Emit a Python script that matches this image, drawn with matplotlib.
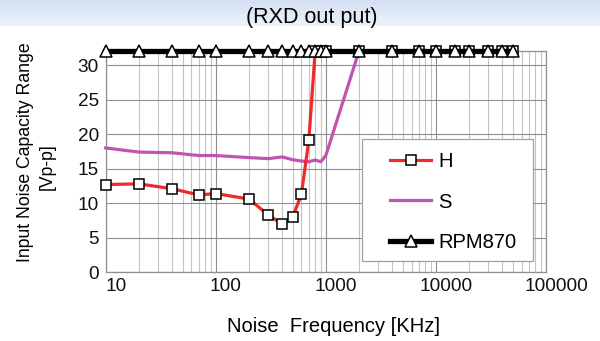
import numpy as np
import matplotlib
matplotlib.use('Agg')
import matplotlib.pyplot as plt
from matplotlib.ticker import LogLocator, FixedLocator, NullFormatter, FixedFormatter
import matplotlib.transforms as mtransforms
from matplotlib.patches import Rectangle

plt.rcParams['font.family'] = ['Liberation Sans', 'DejaVu Sans']

# ---------------- data ----------------
freq = [10, 20, 40, 70, 100, 200, 300, 400, 500, 600, 700, 800, 900, 1000,
        2000, 4000, 7000, 10000, 15000, 20000, 30000, 40000, 50000]
h_vals = [12.7, 12.8, 12.1, 11.2, 11.4, 10.6, 8.3, 7.0, 8.0, 11.3, 19.1, 32, 32, 32,
          32, 32, 32, 32, 32, 32, 32, 32, 32]
freq_s = [10, 20, 40, 70, 100, 200, 300, 400, 500, 600, 700, 800, 900, 1000, 2000]
s_vals = [18.0, 17.4, 17.3, 16.9, 16.9, 16.6, 16.45, 16.7, 16.3, 16.1, 16.0, 16.25, 16.0, 16.9, 32]
rpm_vals = [32, 32, 32, 32, 32, 32, 32, 32, 32, 32, 32, 32, 32, 32,
            32, 32, 32, 32, 32, 32, 32, 32, 32]
x_ticks = [10, 100, 1000, 10000, 100000]
x_ticklabels = ['10', '100', '1000', '10000', '100000']
y_ticks = [0, 5, 10, 15, 20, 25, 30]

W, H = 600, 341
fig = plt.figure(figsize=(W / 100, H / 100), dpi=100)
fig.patch.set_facecolor('white')

# top banner
bh = 26
bax = fig.add_axes([0, 1 - bh / H, 1, bh / H])
grad = np.linspace(0, 1, 50).reshape(-1, 1)
c_top = np.array([0.83, 0.88, 0.95])
c_bot = np.array([0.93, 0.95, 0.98])
img = c_top[None, None, :] * (1 - grad[:, :, None]) + c_bot[None, None, :] * grad[:, :, None]
bax.imshow(img, aspect='auto', extent=[0, 1, 0, 1])
bax.axis('off')

ax_l, ax_r = 105.7, 546.0
ax_t, ax_b = 51.2, 272.3
ax = fig.add_axes([ax_l / W, 1 - ax_b / H, (ax_r - ax_l) / W, (ax_b - ax_t) / H])

red = '#ee2a2a'
mag = '#c154b1'

ax.plot(freq_s, s_vals, color=mag, lw=2.3, zorder=3, clip_on=False, label='S')
ax.plot(freq, h_vals, color=red, lw=2.3, marker='s', ms=7.5, mfc='white', mec='black',
        mew=1.1, zorder=4, clip_on=False, label='H')
ax.plot(freq, rpm_vals, color='black', lw=3.8, marker='^', ms=8.5, mfc='white', mec='black',
        mew=1.1, zorder=5, clip_on=False, label='RPM870')

ax.set_xscale('log')
ax.set_xlim(10, 100000)
ax.set_ylim(0, 32)
ax.xaxis.set_major_locator(FixedLocator(x_ticks))
ax.xaxis.set_major_formatter(FixedFormatter(x_ticklabels))
ax.xaxis.set_minor_locator(LogLocator(base=10, subs=[2, 3, 4, 5, 6, 7, 8, 9], numticks=20))
ax.xaxis.set_minor_formatter(NullFormatter())
ax.set_yticks(y_ticks)

ax.grid(which='major', axis='both', color='#8f8f8f', lw=0.8, zorder=0)
ax.grid(which='minor', axis='x', color='#c4c4c4', lw=0.8, zorder=0)
ax.set_axisbelow(True)
for s in ax.spines.values():
    s.set_color('#8f8f8f')
    s.set_linewidth(0.9)

ax.tick_params(axis='both', which='both', length=0, labelsize=13.7, colors='#111111')
ax.tick_params(axis='x', pad=4)
ax.tick_params(axis='y', pad=5)

offset = mtransforms.ScaledTranslation(10 / 100, 0, fig.dpi_scale_trans)
for lab in ax.get_xticklabels():
    lab.set_transform(lab.get_transform() + offset)

# legend frame
lx0 = (361.7 - ax_l) / (ax_r - ax_l)
lx1 = (533.3 - ax_l) / (ax_r - ax_l)
ly0 = (ax_b - 261) / (ax_b - ax_t)
ly1 = (ax_b - 139) / (ax_b - ax_t)
ax.add_patch(Rectangle((lx0, ly0), lx1 - lx0, ly1 - ly0, transform=ax.transAxes,
                       facecolor='white', edgecolor='#a0a0a0', lw=0.9, zorder=6))
handles, labels = ax.get_legend_handles_labels()
order = [1, 0, 2]
leg = ax.legend([handles[i] for i in order], [labels[i] for i in order],
                loc='center left',
                bbox_to_anchor=((390 - ax_l) / (ax_r - ax_l), (ax_b - 202.0) / (ax_b - ax_t)),
                frameon=False, fontsize=14.5, handlelength=2.06, handletextpad=0.35,
                labelspacing=1.08, borderpad=0, borderaxespad=0, numpoints=1)
leg.set_zorder(7)

# labels
fig.text(312 / W, 1 - 18 / H, '(RXD out put)', ha='center', va='center', fontsize=15.5)
fig.text(333 / W, 1 - 327 / H, 'Noise  Frequency [KHz]', ha='center', va='center', fontsize=14.5)
fig.text(26 / W, 1 - 152 / H, 'Input Noise Capacity Range', ha='center', va='center',
         fontsize=12.7, rotation=90)
fig.text(47 / W, 1 - 167 / H, '[Vp-p]', ha='center', va='center', fontsize=12.7, rotation=90)

fig.savefig('out.png', dpi=100)
